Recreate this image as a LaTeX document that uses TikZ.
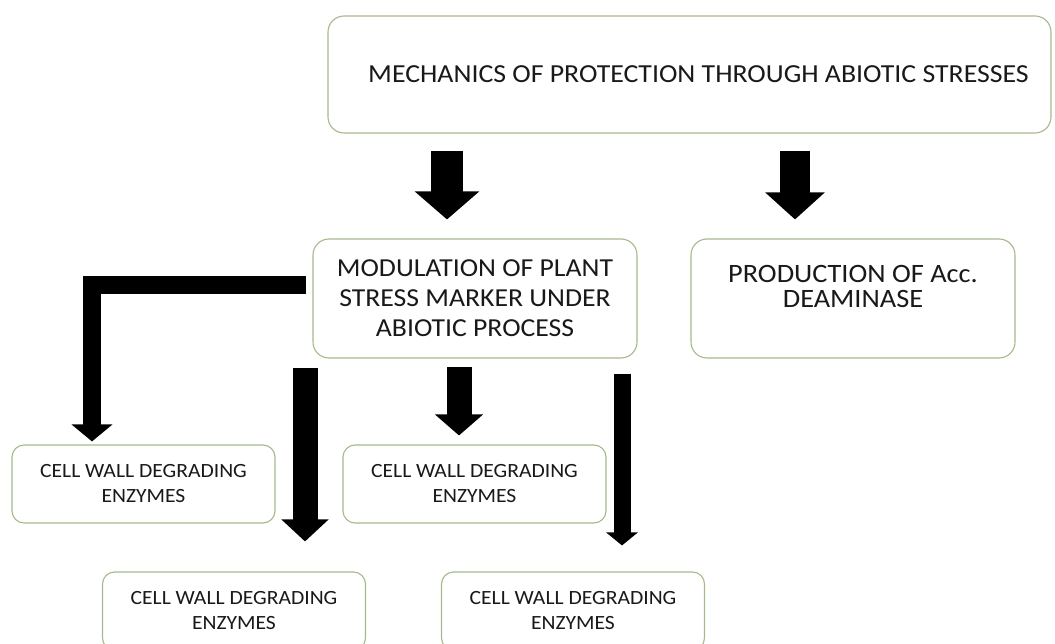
\documentclass[tikz,border=0pt]{standalone}
\usepackage{fontspec}
\setmainfont{Carlito}[FakeStretch=1.07]
\usetikzlibrary{arrows.meta, positioning}
\definecolor{boxline}{RGB}{165,185,140}
\definecolor{txt}{RGB}{25,25,25}

\begin{document}
\begin{tikzpicture}[x=1pt, y=-1pt, text=txt,
    box/.style={draw=boxline, line width=1.1pt, rounded corners=16pt, fill=white, align=center, inner sep=0pt},
    smallbox/.style={box, rounded corners=12pt, minimum width=263pt, minimum height=78pt, font=\fontsize{20.2}{25}\selectfont},
    fat/.style n args={3}{line width=#1, -{Triangle[width=#2, length=#3]}}]
    \useasboundingbox (0,0) rectangle (1055,644);
    \clip (0,0) rectangle (1055,644);
    \node[box, minimum width=723pt, minimum height=117pt, font=\fontsize{26}{30}\selectfont] (mech) at (689.5,74.5) {\hspace*{18pt}MECHANICS OF PROTECTION THROUGH ABIOTIC STRESSES};
    \node[box, minimum width=324pt, minimum height=119pt, font=\fontsize{25.9}{30}\selectfont] (mod) at (475,298.5) {MODULATION OF PLANT\\STRESS MARKER UNDER\\ABIOTIC PROCESS};
    \node[box, minimum width=324pt, minimum height=119pt, font=\fontsize{26.5}{25}\selectfont] (prod) at (853,298.5) {PRODUCTION OF Acc.\\DEAMINASE\\\mbox{}};
    \node[smallbox] (cw1) at (143.5,484) {CELL WALL DEGRADING\\ENZYMES};
    \node[smallbox] (cw2) at (474.5,484) {CELL WALL DEGRADING\\ENZYMES};
    \node[smallbox] (cw3) at (234,611) {CELL WALL DEGRADING\\ENZYMES};
    \node[smallbox] (cw4) at (573,611) {CELL WALL DEGRADING\\ENZYMES};
    % arrows
    \draw[fat={32pt}{63pt}{28pt}, shorten <=17pt, shorten >=19pt] ([xshift=-242.5pt]mech.south) -- ([xshift=-28pt]mod.north);
    \draw[fat={30pt}{58pt}{27pt}, shorten <=17pt, shorten >=19pt] ([xshift=105.5pt]mech.south) -- ([xshift=-58pt]prod.north);
    \draw[fat={18pt}{40pt}{17pt}, shorten >=3pt] ([xshift=-6pt, yshift=13.5pt]mod.west) -| ([xshift=-51.5pt]cw1.north);
    \draw[fat={25pt}{46pt}{22pt}, shorten <=9pt, shorten >=30pt] ([xshift=-170pt]mod.south) -- ([xshift=71pt]cw3.north);
    \draw[fat={25pt}{47pt}{21pt}, shorten <=8pt, shorten >=9pt] ([xshift=-16pt]mod.south) -- ([xshift=-15.5pt]cw2.north);
    \draw[fat={17pt}{31pt}{13pt}, shorten <=15pt, shorten >=26pt] ([xshift=147pt]mod.south) -- ([xshift=49pt]cw4.north);
\end{tikzpicture}
\end{document}
